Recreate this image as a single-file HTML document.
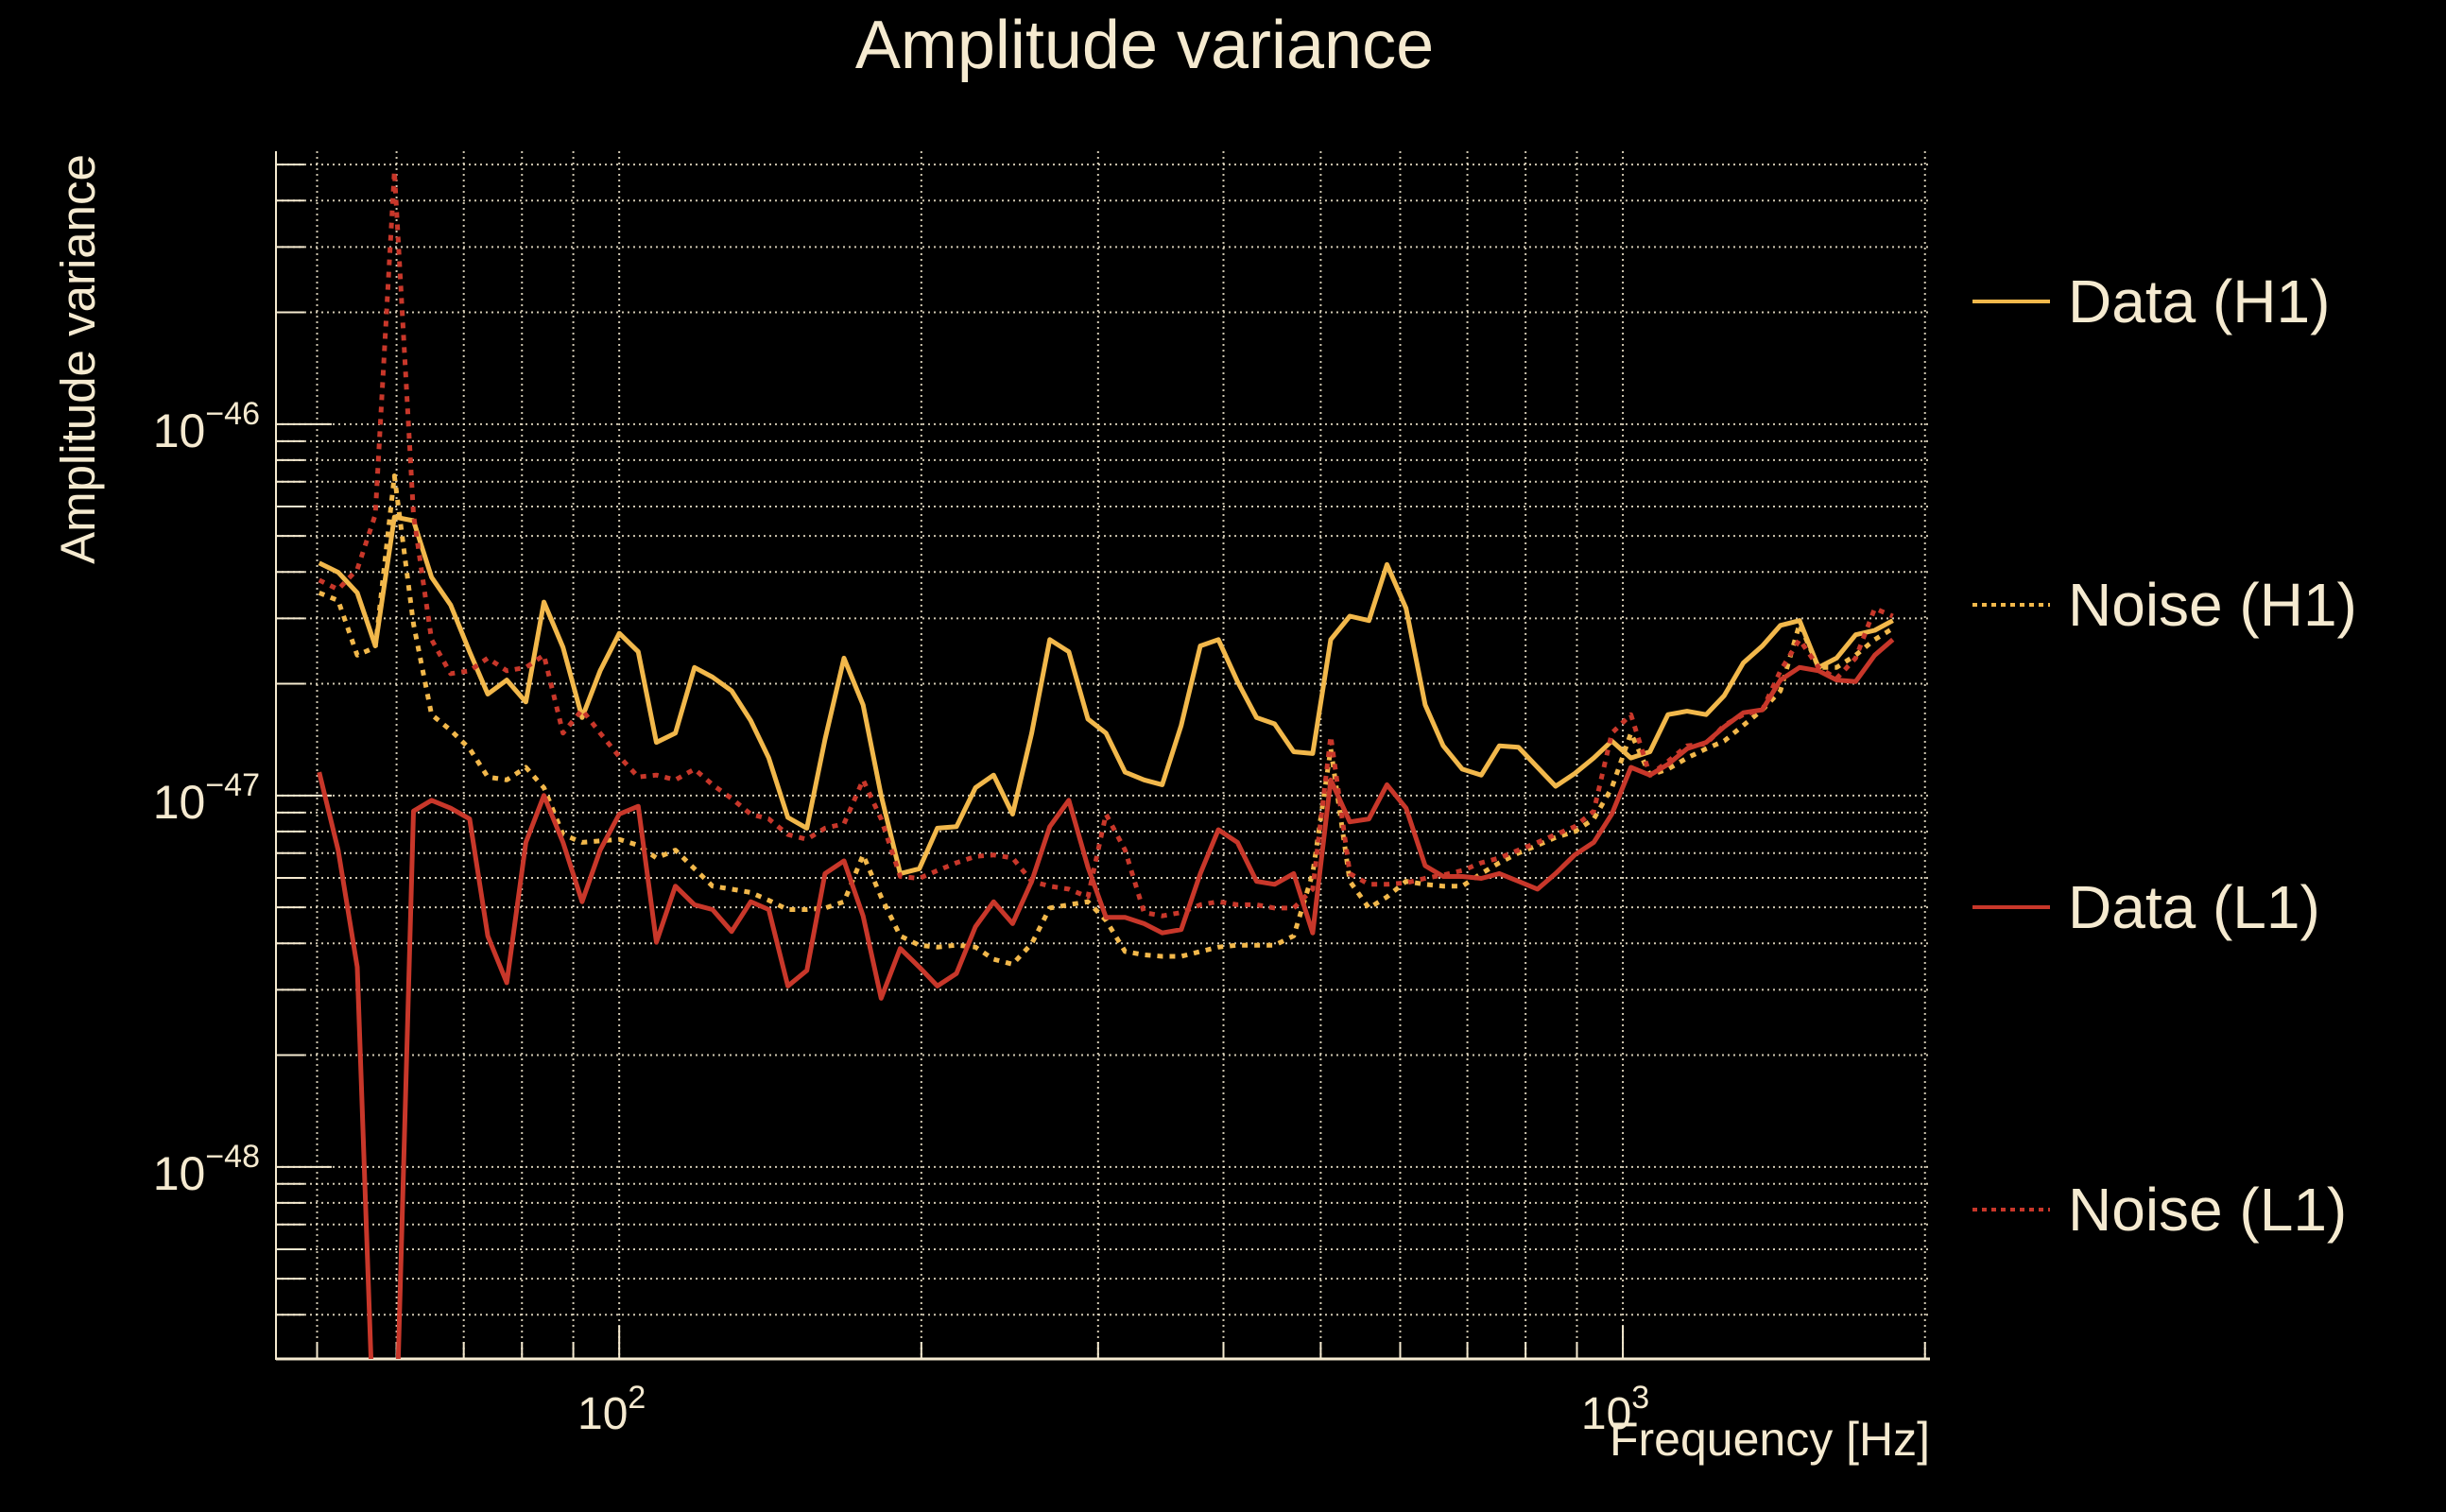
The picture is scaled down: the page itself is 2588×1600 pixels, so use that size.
<!DOCTYPE html>
<html><head><meta charset="utf-8"><style>
html,body{margin:0;padding:0;background:#000;}
svg{display:block;}
text{font-family:"Liberation Sans",sans-serif;fill:#f5ead0;}
</style></head><body>
<svg id="chart" width="2588" height="1600" viewBox="0 0 2588 1600" xmlns="http://www.w3.org/2000/svg">
<rect x="0" y="0" width="2588" height="1600" fill="#000"/>
<defs><clipPath id="plotclip"><rect x="292" y="160" width="1750" height="1278"/></clipPath></defs>
<text x="1211" y="72" font-size="72" text-anchor="middle">Amplitude variance</text>
<text transform="translate(100,380) rotate(-90)" font-size="51" text-anchor="middle">Amplitude variance</text>
<text x="2042" y="1540" font-size="50" text-anchor="end">Frequency [Hz]</text>
<g id="grid"></g>
<g id="axes"></g>
<g id="series" clip-path="url(#plotclip)"></g>
<g id="legend"></g>
</svg>
<script>
// log10(frequency in Hz)
const logFreq = [1.701,1.720,1.739,1.757,1.776,1.795,1.813,1.832,1.851,1.869,
1.888,1.907,1.925,1.944,1.963,1.981,2.000,2.019,2.037,2.056,
2.075,2.093,2.112,2.131,2.149,2.168,2.187,2.205,2.224,2.243,
2.261,2.280,2.299,2.317,2.336,2.355,2.373,2.392,2.411,2.429,
2.448,2.467,2.485,2.504,2.523,2.541,2.560,2.579,2.597,2.616,
2.635,2.653,2.672,2.691,2.709,2.728,2.747,2.765,2.784,2.803,
2.821,2.840,2.859,2.877,2.896,2.915,2.933,2.952,2.971,2.989,
3.008,3.027,3.045,3.064,3.083,3.101,3.120,3.139,3.157,3.176,
3.195,3.213,3.232,3.251,3.269];
// log10(amplitude variance)
const dataH1 = [-46.374,-46.399,-46.454,-46.597,-46.250,-46.260,-46.412,-46.487,-46.613,-46.727,
-46.689,-46.748,-46.479,-46.601,-46.790,-46.664,-46.563,-46.613,-46.857,-46.832,
-46.655,-46.681,-46.718,-46.798,-46.899,-47.059,-47.088,-46.849,-46.630,-46.756,
-47.000,-47.210,-47.197,-47.088,-47.084,-46.979,-46.945,-47.050,-46.832,-46.580,
-46.613,-46.794,-46.832,-46.937,-46.958,-46.971,-46.811,-46.597,-46.580,-46.693,
-46.790,-46.807,-46.882,-46.887,-46.580,-46.517,-46.529,-46.378,-46.496,-46.756,
-46.866,-46.929,-46.945,-46.866,-46.870,-46.924,-46.975,-46.941,-46.899,-46.853,
-46.899,-46.882,-46.782,-46.773,-46.782,-46.731,-46.643,-46.597,-46.542,-46.529,
-46.655,-46.630,-46.567,-46.555,-46.529];
const noiseH1 = [-46.454,-46.475,-46.622,-46.601,-46.139,-46.538,-46.782,-46.824,-46.874,-46.950,
-46.958,-46.924,-46.979,-47.105,-47.126,-47.122,-47.118,-47.134,-47.168,-47.147,
-47.197,-47.244,-47.252,-47.261,-47.282,-47.307,-47.307,-47.303,-47.286,-47.160,
-47.273,-47.378,-47.403,-47.408,-47.403,-47.408,-47.441,-47.454,-47.399,-47.303,
-47.294,-47.286,-47.336,-47.420,-47.429,-47.433,-47.433,-47.420,-47.408,-47.403,
-47.403,-47.403,-47.378,-47.210,-46.874,-47.231,-47.303,-47.273,-47.231,-47.239,
-47.244,-47.244,-47.210,-47.181,-47.155,-47.134,-47.113,-47.097,-47.063,-46.979,
-46.832,-46.945,-46.929,-46.899,-46.874,-46.853,-46.811,-46.769,-46.718,-46.538,
-46.655,-46.655,-46.622,-46.580,-46.550];
const dataL1 = [-46.937,-47.147,-47.462,-48.849,-48.891,-47.042,-47.013,-47.034,-47.063,-47.378,
-47.504,-47.126,-47.000,-47.126,-47.286,-47.147,-47.050,-47.029,-47.395,-47.244,
-47.294,-47.307,-47.366,-47.286,-47.307,-47.513,-47.471,-47.210,-47.176,-47.324,
-47.546,-47.412,-47.462,-47.513,-47.479,-47.353,-47.286,-47.345,-47.231,-47.084,
-47.013,-47.193,-47.328,-47.328,-47.345,-47.370,-47.361,-47.210,-47.092,-47.126,
-47.231,-47.239,-47.210,-47.370,-46.958,-47.071,-47.063,-46.971,-47.034,-47.189,
-47.218,-47.218,-47.223,-47.210,-47.231,-47.252,-47.210,-47.160,-47.126,-47.050,
-46.924,-46.945,-46.916,-46.874,-46.857,-46.815,-46.777,-46.769,-46.689,-46.655,
-46.664,-46.689,-46.693,-46.622,-46.580];
const noiseL1 = [-46.420,-46.445,-46.391,-46.244,-45.319,-46.244,-46.580,-46.672,-46.664,-46.630,
-46.664,-46.655,-46.622,-46.832,-46.769,-46.832,-46.895,-46.950,-46.945,-46.958,
-46.929,-46.971,-47.008,-47.050,-47.063,-47.105,-47.118,-47.088,-47.076,-46.958,
-47.063,-47.218,-47.223,-47.202,-47.181,-47.164,-47.160,-47.168,-47.231,-47.244,
-47.252,-47.273,-47.050,-47.147,-47.315,-47.324,-47.315,-47.294,-47.286,-47.294,
-47.294,-47.303,-47.303,-47.252,-46.840,-47.210,-47.239,-47.239,-47.235,-47.223,
-47.214,-47.202,-47.181,-47.168,-47.147,-47.126,-47.105,-47.084,-47.042,-46.832,
-46.782,-46.945,-46.908,-46.866,-46.861,-46.811,-46.782,-46.769,-46.664,-46.580,
-46.655,-46.685,-46.630,-46.496,-46.517];
const seriesNames = ["Data (H1)","Noise (H1)","Data (L1)","Noise (L1)"];
const xTickLabels = ["2","3"];
const yTickLabels = ["-46","-47","-48"];

const NS="http://www.w3.org/2000/svg";
const PL=292,PR=2042,PT=160,PB=1438;
const XMIN=1.658,XMAX=3.306,YMAX=-45.265,YMIN=-48.517;
function xs(lf){return PL+(lf-XMIN)/(XMAX-XMIN)*(PR-PL);}
function ys(lv){return PT+(YMAX-lv)/(YMAX-YMIN)*(PB-PT);}
function mk(tag,attrs,parent){const e=document.createElementNS(NS,tag);for(const k in attrs)e.setAttribute(k,attrs[k]);parent.appendChild(e);return e;}
const grid=document.getElementById('grid'),axes=document.getElementById('axes'),ser=document.getElementById('series'),leg=document.getElementById('legend');
const GC="#f5ead0";
for(let d=1;d<=3;d++){for(let k=1;k<=9;k++){const lf=d+Math.log10(k);if(lf<XMIN||lf>XMAX)continue;const x=xs(lf);
 const g=mk('line',{x1:x,y1:PT,x2:x,y2:PB,stroke:GC,'stroke-width':2,'stroke-dasharray':'2,4',opacity:0.85},grid);
 
 
 const t=mk('line',{x1:x,y1:PB,x2:x,y2:PB-(k===1?35:18),stroke:GC,'stroke-width':2},axes);
 
 }}
for(let d=-49;d<=-46;d++){for(let k=1;k<=9;k++){const lv=d+Math.log10(k);if(lv<YMIN||lv>YMAX)continue;const y=ys(lv);
 const g=mk('line',{x1:PL,y1:y,x2:PR,y2:y,stroke:GC,'stroke-width':2,'stroke-dasharray':'2,4',opacity:0.85},grid);
 
 
 const t=mk('line',{x1:PL,y1:y,x2:PL+(k===1?59:30),y2:y,stroke:GC,'stroke-width':2},axes);
 
 }}
const sl=mk('line',{x1:PL,y1:PT,x2:PL,y2:PB+1,stroke:GC,'stroke-width':2},axes);


const sb=mk('line',{x1:PL,y1:PB,x2:PR,y2:PB,stroke:GC,'stroke-width':3},axes);


xTickLabels.forEach(s=>{const x=xs(+s);const t=mk('text',{x:x-8,y:1512,'font-size':48,'text-anchor':'middle'},axes);
 
 
 t.textContent='10';const sp=mk('tspan',{dy:-22,'font-size':34},t);sp.textContent=s;});
yTickLabels.forEach(s=>{const y=ys(+s);const t=mk('text',{x:275,y:y+24,'font-size':50,'text-anchor':'end'},axes);
 
 
 t.textContent='10';const sp=mk('tspan',{dy:-24,'font-size':34},t);sp.textContent='\u2212'+s.slice(1);});
const Y="#f2b84b",R="#c8372a";
const specs=[[dataH1,Y,null,'series-data-h1'],[noiseH1,Y,'6,7','series-noise-h1'],[dataL1,R,null,'series-data-l1'],[noiseL1,R,'6,7','series-noise-l1']];
specs.forEach(([vals,c,dash,name])=>{
 const pts=logFreq.map((lf,i)=>xs(lf).toFixed(1)+','+ys(vals[i]).toFixed(1)).join(' ');
 const a={points:pts,fill:'none',stroke:c,'stroke-width':5,'stroke-linejoin':'round'};
 if(dash)a['stroke-dasharray']=dash;
 const p=mk('polyline',a,ser);
 
 
});
const legY=[319,640,960,1280];
specs.forEach(([v,c,dash,name],i)=>{
 const a={x1:2087,y1:legY[i],x2:2169,y2:legY[i],stroke:c,'stroke-width':4};
 if(dash)a['stroke-dasharray']='5,5';
 const l=mk('line',a,leg);
 
 
 const t=mk('text',{x:2188,y:legY[i]+22,'font-size':64},leg);
 
 
 t.textContent=seriesNames[i];
});
</script>
</body></html>
